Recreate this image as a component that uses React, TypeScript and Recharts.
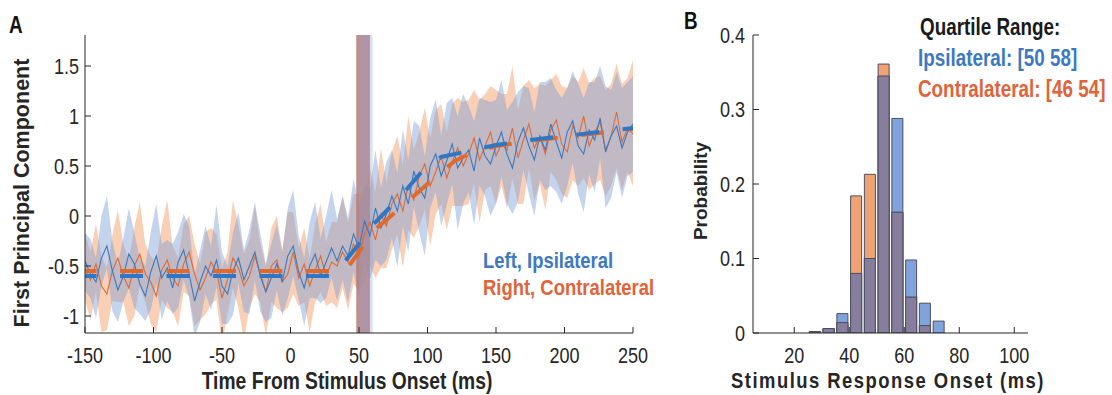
import React from 'react';
import { ComposedChart, Area, Line, Bar, XAxis, YAxis, ReferenceArea } from 'recharts';

const FONT = "'Liberation Sans', Arial, sans-serif";
const SQX = 0.82; // horizontal squeeze of the figure's lettering
const AXIS = '#262626';

// ---------- Panel A data (sample every 4 ms from -150 to 250) ----------
const TIMES: number[] = Array.from({ length: 101 }, (_, i) => -150 + 4 * i);

const ipsiMean = [
  -0.45, -0.58, -0.66, -0.42, -0.30, -0.55, -0.74, -0.60, -0.38, -0.48,
  -0.68, -0.80, -0.56, -0.40, -0.62, -0.52, -0.72, -0.46, -0.34, -0.58,
  -0.85, -0.66, -0.50, -0.60, -0.44, -0.70, -0.78, -0.55, -0.42, -0.64,
  -0.50, -0.36, -0.60, -0.76, -0.62, -0.48, -0.66, -0.40, -0.30, -0.56,
  -0.72, -0.50, -0.38, -0.60, -0.46, -0.32,
  -0.45, -0.30, -0.40, -0.18, -0.32, -0.05, -0.20, 0.08, -0.12, 0.02,
  0.20, 0.05, 0.30, 0.12, 0.45, 0.28, 0.18, 0.50, 0.62, 0.40,
  0.55, 0.72, 0.48, 0.58, 0.66, 0.45, 0.78, 0.60, 0.52, 0.70,
  0.84, 0.62, 0.48, 0.74, 0.88, 0.70, 0.56, 0.80, 0.66, 0.92,
  0.74, 0.58, 0.84, 0.95, 0.70, 0.62, 0.86, 0.76, 0.98, 0.64,
  0.80, 0.90, 0.68, 0.84, 0.92,
];
const ipsiUpper = [
  0.28, 0.35, 0.24, 0.42, 0.50, 0.30, 0.26, 0.38, 0.46, 0.32,
  0.25, 0.30, 0.40, 0.52, 0.34, 0.28, 0.44, 0.30, 0.36, 0.48,
  0.26, 0.32, 0.40, 0.30, 0.55, 0.34, 0.28, 0.38, 0.46, 0.30,
  0.36, 0.50, 0.42, 0.28, 0.34, 0.40, 0.30, 0.48, 0.56, 0.36,
  0.30, 0.44, 0.52, 0.38, 0.46, 0.58,
  0.42, 0.50, 0.38, 0.55, 0.44, 0.36, 0.48, 0.58, 0.40, 0.52,
  0.46, 0.38, 0.56, 0.44, 0.50, 0.62, 0.42, 0.48, 0.55, 0.40,
  0.58, 0.46, 0.52, 0.64, 0.44, 0.50, 0.40, 0.56, 0.62, 0.46,
  0.52, 0.44, 0.66, 0.50, 0.42, 0.58, 0.48, 0.54, 0.68, 0.46,
  0.52, 0.60, 0.44, 0.50, 0.62, 0.56, 0.48, 0.58, 0.52, 0.66,
  0.46, 0.54, 0.60, 0.50, 0.48,
];
const ipsiLower = [
  0.30, 0.24, 0.36, 0.28, 0.22, 0.40, 0.32, 0.26, 0.34, 0.44,
  0.30, 0.25, 0.38, 0.28, 0.42, 0.33, 0.26, 0.46, 0.30, 0.24,
  0.36, 0.40, 0.28, 0.34, 0.27, 0.38, 0.30, 0.44, 0.26, 0.32,
  0.48, 0.28, 0.36, 0.30, 0.40, 0.26, 0.34, 0.42, 0.30, 0.28,
  0.38, 0.32, 0.44, 0.27, 0.36, 0.30,
  0.40, 0.34, 0.46, 0.38, 0.50, 0.36, 0.44, 0.52, 0.38, 0.46,
  0.42, 0.56, 0.40, 0.48, 0.36, 0.44, 0.58, 0.42, 0.38, 0.50,
  0.44, 0.40, 0.62, 0.46, 0.42, 0.54, 0.48, 0.40, 0.52, 0.58,
  0.44, 0.50, 0.46, 0.60, 0.42, 0.48, 0.56, 0.44, 0.40, 0.62,
  0.50, 0.46, 0.54, 0.42, 0.48, 0.58, 0.44, 0.52, 0.40, 0.56,
  0.62, 0.46, 0.50, 0.44, 0.48,
];
const contraMean = [
  -0.52, -0.64, -0.48, -0.70, -0.78, -0.55, -0.42, -0.60, -0.72, -0.50,
  -0.38, -0.58, -0.66, -0.80, -0.54, -0.44, -0.62, -0.70, -0.48, -0.36,
  -0.58, -0.74, -0.62, -0.46, -0.56, -0.82, -0.64, -0.42, -0.52, -0.70,
  -0.60, -0.40, -0.58, -0.76, -0.50, -0.44, -0.66, -0.58, -0.36, -0.62,
  -0.48, -0.70, -0.54, -0.40, -0.60, -0.46,
  -0.50, -0.36, -0.46, -0.28, -0.40, -0.18, -0.06, -0.24, 0.02, -0.10,
  0.12, 0.22, 0.05, 0.30, 0.16, 0.40, 0.52, 0.30, 0.44, 0.60,
  0.38, 0.54, 0.68, 0.50, 0.62, 0.78, 0.56, 0.70, 0.84, 0.60,
  0.72, 0.66, 0.88, 0.58, 0.76, 0.92, 0.68, 0.80, 0.62, 0.86,
  0.96, 0.72, 0.64, 0.90, 0.78, 1.00, 0.70, 0.84, 0.94, 0.66,
  0.80, 1.04, 0.74, 0.88, 0.82,
];
const contraUpper = [
  0.34, 0.28, 0.40, 0.30, 0.26, 0.36, 0.48, 0.32, 0.28, 0.38,
  0.52, 0.30, 0.26, 0.34, 0.44, 0.60, 0.32, 0.28, 0.40, 0.36,
  0.30, 0.26, 0.46, 0.34, 0.38, 0.30, 0.28, 0.58, 0.42, 0.32,
  0.36, 0.50, 0.30, 0.26, 0.38, 0.44, 0.32, 0.62, 0.40, 0.30,
  0.36, 0.28, 0.46, 0.52, 0.34, 0.40,
  0.44, 0.56, 0.40, 0.50, 0.62, 0.42, 0.54, 0.48, 0.66, 0.44,
  0.52, 0.58, 0.46, 0.70, 0.50, 0.44, 0.56, 0.48, 0.62, 0.52,
  0.46, 0.58, 0.50, 0.64, 0.54, 0.48, 0.60, 0.52, 0.46, 0.66,
  0.50, 0.56, 0.62, 0.48, 0.54, 0.44, 0.60, 0.52, 0.68, 0.50,
  0.46, 0.58, 0.64, 0.50, 0.56, 0.48, 0.62, 0.54, 0.46, 0.60,
  0.52, 0.48, 0.58, 0.50, 0.74,
];
const contraLower = [
  0.32, 0.40, 0.28, 0.46, 0.36, 0.30, 0.44, 0.26, 0.38, 0.50,
  0.32, 0.28, 0.42, 0.36, 0.30, 0.48, 0.34, 0.40, 0.28, 0.44,
  0.52, 0.30, 0.36, 0.42, 0.28, 0.46, 0.34, 0.30, 0.40, 0.54,
  0.32, 0.38, 0.28, 0.44, 0.36, 0.48, 0.30, 0.34, 0.42, 0.28,
  0.38, 0.46, 0.32, 0.36, 0.30, 0.40,
  0.42, 0.36, 0.48, 0.40, 0.34, 0.50, 0.44, 0.38, 0.54, 0.42,
  0.46, 0.40, 0.56, 0.44, 0.38, 0.50, 0.46, 0.60, 0.42, 0.48,
  0.52, 0.44, 0.58, 0.40, 0.50, 0.46, 0.62, 0.44, 0.54, 0.48,
  0.42, 0.58, 0.50, 0.46, 0.64, 0.44, 0.52, 0.48, 0.56, 0.42,
  0.60, 0.50, 0.46, 0.54, 0.48, 0.62, 0.44, 0.52, 0.58, 0.46,
  0.50, 0.56, 0.48, 0.44, 0.52,
];

// fitted curves (knots)
const ipsiFitT = [-150, 30, 40, 50, 60, 70, 80, 90, 100, 110, 130, 150, 175, 200, 225, 250];
const ipsiFitV = [-0.6, -0.6, -0.45, -0.28, -0.09, 0.05, 0.19, 0.35, 0.51, 0.59, 0.65, 0.71, 0.76, 0.80, 0.84, 0.88];
const contraFitT = [-150, 40, 50, 60, 70, 80, 90, 100, 110, 120, 130, 150, 175, 200, 225, 250];
const contraFitV = [-0.55, -0.55, -0.36, -0.15, -0.04, 0.08, 0.2, 0.32, 0.44, 0.55, 0.62, 0.70, 0.75, 0.79, 0.83, 0.87];

// quartile ranges of onset (ms)
const ipsiQuartile = [50, 58];
const contraQuartile = [46, 54];
const onsetBarIpsi = [50, 60];
const onsetBarContra = [48, 58];

const xTicksA = [-150, -100, -50, 0, 50, 100, 150, 200, 250];
const yTicksA = [-1, -0.5, 0, 0.5, 1, 1.5];

// ---------- Panel B data (histogram, 5 ms bins) ----------
const binStarts = [5, 10, 15, 20, 25, 30, 35, 40, 45, 50, 55, 60, 65, 70, 75, 80, 85, 90, 95, 100];
const ipsiProb = [0, 0, 0, 0, 0.002, 0.006, 0.026, 0.080, 0.100, 0.345, 0.288, 0.098, 0.040, 0.016, 0, 0, 0, 0, 0, 0];
const contraProb = [0, 0, 0, 0, 0.002, 0.006, 0.014, 0.184, 0.213, 0.361, 0.162, 0.048, 0.010, 0, 0, 0, 0, 0, 0, 0];
const xTicksB = [20, 40, 60, 80, 100];
const yTicksB = [0, 0.1, 0.2, 0.3, 0.4];

const seriesA = TIMES.map((t, i) => ({
  t,
  ipsi: ipsiMean[i],
  contra: contraMean[i],
  ipsiBand: [ipsiMean[i] - ipsiLower[i], ipsiMean[i] + ipsiUpper[i]],
  contraBand: [contraMean[i] - contraLower[i], contraMean[i] + contraUpper[i]],
}));
const ipsiFit = ipsiFitT.map((t, i) => ({ t, v: ipsiFitV[i] }));
const contraFit = contraFitT.map((t, i) => ({ t, v: contraFitV[i] }));

const histData = binStarts.map((b, i) => ({
  bin: String(b),
  mid: b + 2.5,
  ipsi: ipsiProb[i],
  contra: contraProb[i],
  both: Math.min(ipsiProb[i], contraProb[i]),
}));

const BLUE_TXT = '#3d79c2';
const ORANGE_TXT = '#e0633a';

function XTick(props: any) {
  const { x, y, payload } = props;
  return (
    <text transform={`translate(${x},${y}) scale(${SQX},1)`} textAnchor="middle" dy="0.71em"
      fontFamily={FONT} fontSize={22} fill={AXIS}>{String(payload.value)}</text>
  );
}
function YTick(props: any) {
  const { x, y, payload } = props;
  return (
    <text transform={`translate(${x},${y}) scale(${SQX},1)`} textAnchor="end" dy="0.36em"
      fontFamily={FONT} fontSize={22} fill={AXIS}>{String(payload.value)}</text>
  );
}

function NText(p: { x: number; y: number; size: number; fill: string; anchor?: string; ls?: number; children: React.ReactNode }) {
  return (
    <text transform={`translate(${p.x},${p.y}) scale(${SQX},1)`} textAnchor={p.anchor || 'start'}
      fontFamily={FONT} fontWeight="bold" fontSize={p.size} letterSpacing={p.ls || 0} fill={p.fill}>{p.children}</text>
  );
}

export default function App() {
  return (
    <div style={{ position: 'absolute', left: 0, top: 0, width: 1112, height: 395, background: '#fff' }}>
      <div style={{ position: 'absolute', left: 0, top: 0 }}>
        <ComposedChart width={660} height={395} data={seriesA} margin={{ top: 35, right: 27, bottom: 32, left: 25 }}>
          <XAxis
            dataKey="t"
            type="number"
            domain={[-150, 250]}
            ticks={xTicksA}
            allowDataOverflow
            height={30}
            tickSize={-6}
            tickMargin={20}
            tick={<XTick />}
            axisLine={{ stroke: AXIS }}
            tickLine={{ stroke: AXIS }}
          />
          <YAxis
            type="number"
            domain={[-1.17, 1.81]}
            ticks={yTicksA}
            allowDataOverflow
            width={60}
            tickSize={-6}
            tickMargin={12}
            tick={<YTick />}
            axisLine={{ stroke: AXIS }}
            tickLine={{ stroke: AXIS }}
          />
          <Area dataKey="contraBand" type="linear" stroke="none" fill="#f3a06c" fillOpacity={0.5} isAnimationActive={false} />
          <Area dataKey="ipsiBand" type="linear" stroke="none" fill="#7d9fd8" fillOpacity={0.45} isAnimationActive={false} />
          <Line dataKey="contra" type="linear" stroke="#de6a36" strokeWidth={1.1} dot={false} activeDot={false} isAnimationActive={false} />
          <Line dataKey="ipsi" type="linear" stroke="#3a78c0" strokeWidth={1.1} dot={false} activeDot={false} isAnimationActive={false} />
          <ReferenceArea x1={onsetBarContra[0]} x2={onsetBarContra[1]} fill="#b07a78" fillOpacity={0.85} stroke="none" />
          <ReferenceArea x1={onsetBarIpsi[0]} x2={onsetBarIpsi[1]} fill="#9aa6d2" fillOpacity={0.35} stroke="none" />
          <Line data={contraFit} dataKey="v" type="linear" stroke="#e06a2c" strokeWidth={4} strokeDasharray="23 23.5" strokeDashoffset={11.5} dot={false} activeDot={false} isAnimationActive={false} />
          <Line data={ipsiFit} dataKey="v" type="linear" stroke="#2f76c4" strokeWidth={4} strokeDasharray="23 23.5" strokeDashoffset={11.5} dot={false} activeDot={false} isAnimationActive={false} />
        </ComposedChart>
      </div>

      <div style={{ position: 'absolute', left: 660, top: 0 }}>
        <ComposedChart width={452} height={395} data={histData} margin={{ top: 35, right: 84, bottom: 32, left: 33 }}>
          <XAxis
            xAxisId="num"
            dataKey="mid"
            type="number"
            domain={[5, 105]}
            ticks={xTicksB}
            allowDataOverflow
            height={30}
            tickSize={-6}
            tickMargin={20}
            tick={<XTick />}
            axisLine={{ stroke: AXIS }}
            tickLine={{ stroke: AXIS }}
          />
          <XAxis xAxisId="c1" dataKey="bin" type="category" hide height={0} />
          <XAxis xAxisId="c2" dataKey="bin" type="category" hide height={0} />
          <XAxis xAxisId="c3" dataKey="bin" type="category" hide height={0} />
          <YAxis
            type="number"
            domain={[0, 0.4]}
            ticks={yTicksB}
            allowDataOverflow
            width={60}
            tickSize={-6}
            tickMargin={14}
            tick={<YTick />}
            axisLine={{ stroke: AXIS }}
            tickLine={{ stroke: AXIS }}
          />
          <Bar xAxisId="c1" dataKey="ipsi" fill="#7fa3da" stroke="#4d4f63" strokeWidth={1} isAnimationActive={false} />
          <Bar xAxisId="c2" dataKey="contra" fill="#efa274" stroke="#4d4f63" strokeWidth={1} isAnimationActive={false} />
          <Bar xAxisId="c3" dataKey="both" fill="#877d9c" stroke="#4d4f63" strokeWidth={1} isAnimationActive={false} />
          <Line xAxisId="num" dataKey="ipsi" stroke="none" strokeWidth={0} dot={false} activeDot={false} legendType="none" isAnimationActive={false} />
        </ComposedChart>
      </div>

      <svg width={1112} height={395} style={{ position: 'absolute', left: 0, top: 0, pointerEvents: 'none' }}>
        <NText x={9} y={33} size={23} fill="#111">A</NText>
        <NText x={684} y={29} size={23} fill="#111">B</NText>
        <text transform="translate(22,193) rotate(-90)" textAnchor="middle" dominantBaseline="central" fontFamily={FONT} fontWeight="bold" fontSize={21.5} fill={AXIS}>First Principal Component</text>
        <NText x={347} y={389} size={23.5} fill={AXIS} anchor="middle">Time From Stimulus Onset (ms)</NText>
        <NText x={483} y={268} size={22.5} fill={BLUE_TXT}>Left, Ipsilateral</NText>
        <NText x={483} y={295} size={22.5} fill={ORANGE_TXT}>Right, Contralateral</NText>
        <text transform="translate(700,191) rotate(-90)" textAnchor="middle" dominantBaseline="central" fontFamily={FONT} fontWeight="bold" fontSize={19} fill={AXIS}>Probability</text>
        <NText x={888} y={388} size={22.5} fill={AXIS} anchor="middle" ls={1.8}>Stimulus Response Onset (ms)</NText>
        <NText x={920} y={35} size={23} fill="#1a1a1a">Quartile Range:</NText>
        <NText x={918} y={66} size={23} fill={BLUE_TXT}>{`Ipsilateral: [${ipsiQuartile[0]} ${ipsiQuartile[1]}]`}</NText>
        <NText x={918} y={97} size={23} fill={ORANGE_TXT}>{`Contralateral: [${contraQuartile[0]} ${contraQuartile[1]}]`}</NText>
      </svg>
    </div>
  );
}
